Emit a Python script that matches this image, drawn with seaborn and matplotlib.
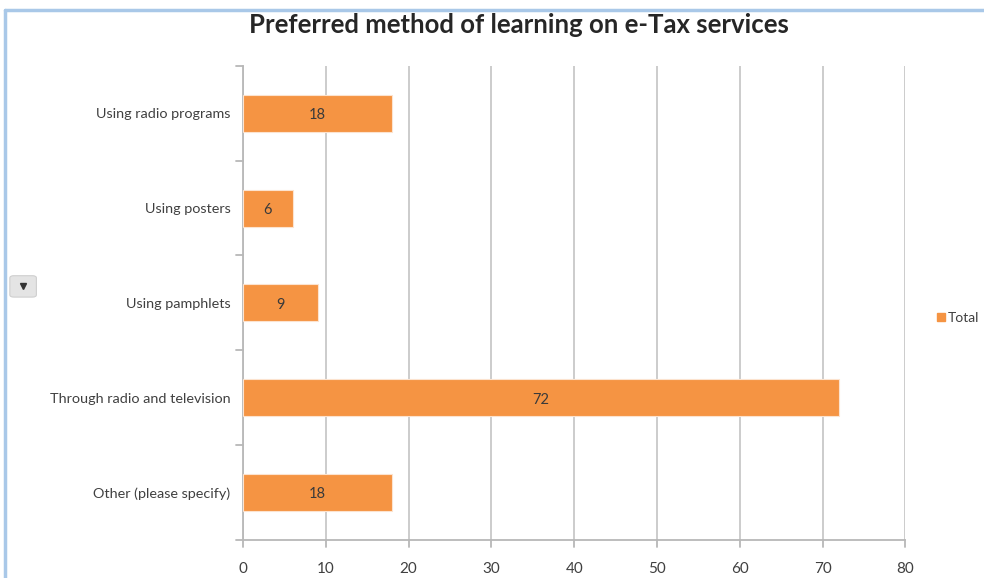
import matplotlib
matplotlib.use("Agg")
import matplotlib.pyplot as plt
from matplotlib.patches import FancyBboxPatch
from matplotlib.lines import Line2D
import seaborn as sns
import pandas as pd

categories = [
    "Using radio programs",
    "Using posters",
    "Using pamphlets",
    "Through radio and television",
    "Other (please specify)",
]
totals = [18, 6, 9, 72, 18]
x_ticks = [0, 10, 20, 30, 40, 50, 60, 70, 80]

sns.set_theme(style="white")
plt.rcParams["font.family"] = ["Lato", "DejaVu Sans"]

df = pd.DataFrame({"method": categories, "Total": totals})
bar_color = "#F59443"
text_color = "#404040"

fig = plt.figure(figsize=(9.84, 5.78), dpi=100)
ax = fig.add_axes([0.247, 0.066, 0.673, 0.820])

sns.barplot(data=df, x="Total", y="method", orient="h", color=bar_color,
            width=0.39, saturation=1, ax=ax, zorder=3)

for patch, val in zip(ax.patches, totals):
    patch.set_edgecolor("#FCE3CF")
    patch.set_linewidth(0.8)
    cy = patch.get_y() + patch.get_height() / 2
    ax.text(val / 2, cy + 0.02, str(val), ha="center", va="center",
            fontsize=10.5, color="#3a3a3a", zorder=4)

ax.set_xlim(0, 80)
ax.set_ylim(4.5, -0.5)
ax.set_xticks(x_ticks)
ax.set_xticklabels([str(t) for t in x_ticks], fontsize=11, color=text_color)
ax.tick_params(axis="x", length=0, pad=16)
ax.set_yticks(range(len(categories)))
ax.set_yticklabels(categories, fontsize=10.4, color=text_color)
ax.tick_params(axis="y", length=0, pad=9)
ax.set_xlabel("")
ax.set_ylabel("")

# vertical gridlines
ax.grid(axis="x", color="#c8c8c8", linewidth=1.3, zorder=0)
ax.grid(axis="y", visible=False)

for side in ["top", "right"]:
    ax.spines[side].set_visible(False)
for side in ["left", "bottom"]:
    ax.spines[side].set_color("#b8b8b8")
    ax.spines[side].set_linewidth(1.3)

# category boundary ticks on the value axis
for b in [-0.5, 0.5, 1.5, 2.5, 3.5, 4.5]:
    ax.plot([-0.9, 0], [b, b], color="#b8b8b8", lw=1.3, clip_on=False, zorder=2)
# value ticks below the category axis
for t in x_ticks:
    ax.plot([t, t], [4.5, 4.58], color="#b8b8b8", lw=1.3, clip_on=False, zorder=2)

fig.text(0.527, 0.957, "Preferred method of learning on e-Tax services",
         ha="center", va="center", fontsize=18.5, fontweight="bold", color="#262626")

# legend
ax.legend(handles=[Line2D([], [], marker="s", linestyle="", color=bar_color,
                          markersize=6, label="Total")],
          loc="center left", frameon=False, fontsize=10, handletextpad=0.0,
          borderaxespad=0, borderpad=0, handlelength=1.0, labelcolor=text_color)
ax.get_legend().set_bbox_to_anchor((0.949, 0.45), transform=fig.transFigure)

# window frame lines
fig.add_artist(Line2D([0.005, 1.0], [0.982, 0.982], transform=fig.transFigure,
                      color="#a9c8e8", lw=2.5))
fig.add_artist(Line2D([0.005, 0.005], [0.0, 0.982], transform=fig.transFigure,
                      color="#a9c8e8", lw=2.5))

# filter dropdown button
btn = FancyBboxPatch((0.012, 0.488), 0.023, 0.033, boxstyle="round,pad=0.002,rounding_size=0.004",
                     transform=fig.transFigure, facecolor="#e4e4e4", edgecolor="#cfcfcf", lw=0.8)
fig.add_artist(btn)
fig.add_artist(Line2D([0.0235], [0.505], transform=fig.transFigure, marker="v",
                      color="#333333", markersize=4, linestyle=""))

fig.savefig("out.png", dpi=100)
